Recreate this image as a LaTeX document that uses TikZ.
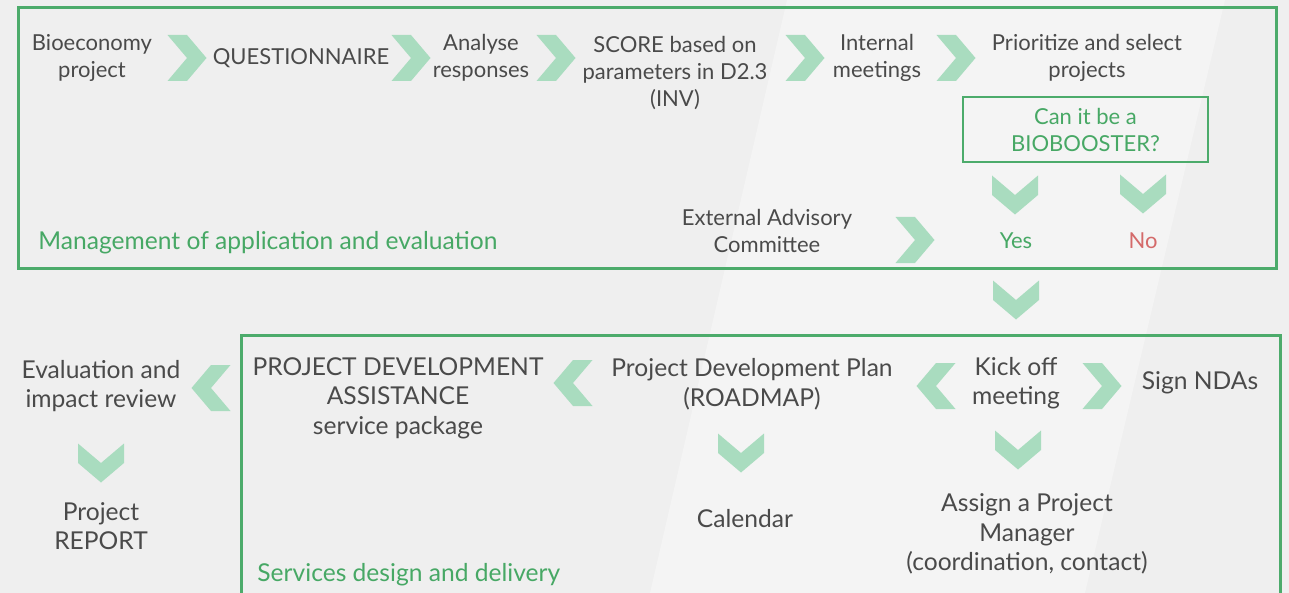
\documentclass[tikz,border=0pt]{standalone}
\usepackage{fontspec}
\setmainfont{Lato}
\usepackage{tikz}
\usetikzlibrary{positioning}
\definecolor{bggray}{HTML}{EFEFEF}
\definecolor{bglight}{HTML}{F4F4F4}
\definecolor{framegreen}{HTML}{4CAB6B}
\definecolor{textgreen}{HTML}{47A865}
\definecolor{nored}{HTML}{D46A6A}
\definecolor{chevgreen}{HTML}{A9DCBF}
\definecolor{txtgray}{HTML}{4A4A4A}
\tikzset{
  txt/.style={align=center, text=txtgray, inner sep=0pt, font=\fontsize{11}{13.5}\selectfont},
  txtb/.style={txt, font=\fontsize{12.3}{14.8}\selectfont},
  ttl/.style={anchor=west, inner sep=0pt, text=textgreen, font=\fontsize{12.3}{14}\selectfont},
  frame/.style={draw=framegreen, line width=1.5pt},
  qbox/.style={draw=framegreen, line width=0.8pt, text=textgreen, align=center, inner sep=0pt, minimum width=122.5pt, minimum height=32.5pt, font=\fontsize{11}{13.5}\selectfont},
  chev/.pic={\fill[chevgreen] (-19.5,-23) -- (0,-23) -- (19.5,0) -- (0,23) -- (-19.5,23) -- (0,0) -- cycle;}
}
\begin{document}
\begin{tikzpicture}[x=0.5pt,y=-0.5pt]
  % background
  \useasboundingbox (0,0) rectangle (1289,593);
  \fill[bggray] (0,0) rectangle (1289,593);
  \fill[bglight] (787,0) -- (1225,0) -- (1085,593) -- (650,593) -- cycle;

  % management of application and evaluation
  \draw[frame] (18,8) rectangle (1276,268);
  \node[txt] (bio) at (92,58) {Bioeconomy\\project};
  \node[txt] (quest) at (301,58) {QUESTIONNAIRE};
  \node[txt] (anal) at (481,58) {Analyse\\responses};
  \node[txt] (score) at (675,73) {SCORE based on\\parameters in D2.3\\(INV)};
  \node[txt] (intm) at (877,58) {Internal\\meetings};
  \node[txt] (prio) at (1087,58) {Prioritize and select\\projects};
  \node[qbox] (boost) at (1085.5,129.5) {Can it be a\\BIOBOOSTER?};
  \node[txt] (ext) at (767,231) {External Advisory\\Committee};
  \node[txt, text=textgreen] (yes) at (1016,241) {Yes};
  \node[txt, text=nored] (no) at (1143,241) {No};
  \node[ttl] (mgmt) at (38,243) {Management of application and evaluation};

  \pic at (187,58) {chev};
  \pic at (411,58) {chev};
  \pic at (556,58) {chev};
  \pic at (805,58) {chev};
  \pic at (956,58) {chev};
  \pic at (915,240) {chev};
  \pic[rotate=-90] at (1015,195) {chev};
  \pic[rotate=-90] at (1143,194) {chev};
  \pic[rotate=-90] at (1016,300) {chev};

  % services design and delivery
  \draw[frame] (241,335) rectangle (1280,620);
  \node[txtb] (evalr) at (101,386) {Evaluation and\\impact review};
  \node[txtb] (pda) at (398,398) {PROJECT DEVELOPMENT\\ASSISTANCE\\service package};
  \node[txtb] (pdp) at (752,384) {Project Development Plan\\(ROADMAP)};
  \node[txtb] (kick) at (1016,383) {Kick off\\meeting};
  \node[txtb] (nda) at (1200,383) {Sign NDAs};
  \node[txtb] (report) at (101,526) {Project\\REPORT};
  \node[txtb] (cal) at (745,519) {Calendar};
  \node[txtb] (assign) at (1027,534) {Assign a Project\\Manager\\(coordination, contact)};
  \node[ttl] (serv) at (257,575) {Services design and delivery};

  \pic[rotate=180] at (211,388) {chev};
  \pic[rotate=180] at (573,383) {chev};
  \pic[rotate=180] at (936,386) {chev};
  \pic at (1102,386) {chev};
  \pic[rotate=-90] at (101,463) {chev};
  \pic[rotate=-90] at (741,453) {chev};
  \pic[rotate=-90] at (1018,450) {chev};
\end{tikzpicture}
\end{document}
